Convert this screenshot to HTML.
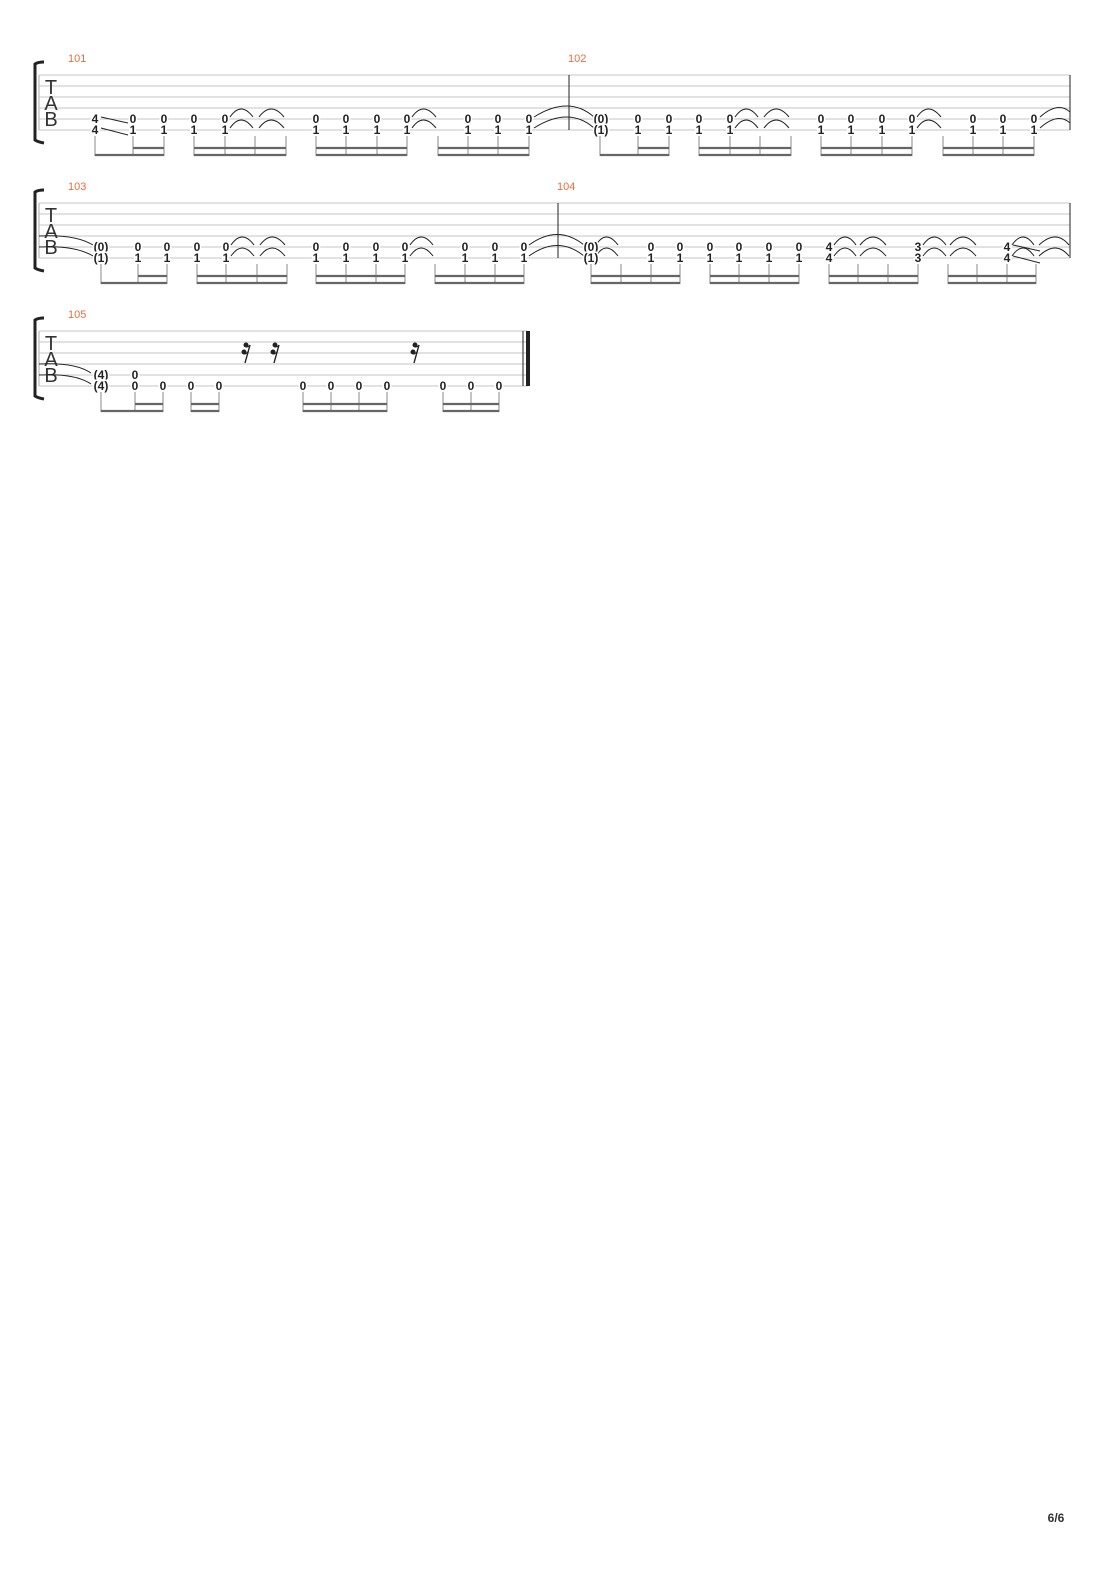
<!DOCTYPE html>
<html><head><meta charset="utf-8"><style>
html,body{margin:0;padding:0;background:#fff;}
svg{display:block}
.st line{stroke:#c4c4c4;stroke-width:1}
.n{font:bold 12px "Liberation Sans",sans-serif;fill:#222;text-anchor:middle;paint-order:stroke;stroke:#fff;stroke-width:3px}
.mn{font:11px "Liberation Sans",sans-serif;fill:#f26a3c}
.tab{font:20px "Liberation Sans",sans-serif;fill:#333;text-anchor:middle}
.tie{fill:none;stroke:#222;stroke-width:1}
.stem{stroke:#888;stroke-width:1}
.bm{stroke:#666;stroke-width:2.2}
</style></head><body>
<svg width="1110" height="1570" viewBox="0 0 1110 1570" xmlns="http://www.w3.org/2000/svg">
<defs>
<g id="staffhead">
<path d="M44 62 Q38 62 35 64 L35 140 Q38 142 44 143" fill="none" stroke="#222" stroke-width="3"/>
<line x1="39" y1="75" x2="39" y2="130" stroke="#aaa" stroke-width="1"/>
</g>
</defs>

<!-- SYSTEM 1 -->
<g>
<use href="#staffhead"/>
<g class="st"><line x1="39" y1="75" x2="1070" y2="75"/><line x1="39" y1="86" x2="1070" y2="86"/><line x1="39" y1="97" x2="1070" y2="97"/><line x1="39" y1="108" x2="1070" y2="108"/><line x1="39" y1="119" x2="1070" y2="119"/><line x1="39" y1="130" x2="1070" y2="130"/></g>
<text class="tab" x="51" y="94">T</text><text class="tab" x="51" y="110">A</text><text class="tab" x="51" y="126">B</text>
<text class="mn" x="68" y="62">101</text><text class="mn" x="568" y="62">102</text>
<line x1="569" y1="75" x2="569" y2="130" stroke="#222"/>
<line x1="1070" y1="75" x2="1070" y2="130" stroke="#222"/>
<!-- slides -->
<line x1="101" y1="117" x2="128" y2="123" stroke="#222"/><line x1="101" y1="128" x2="128" y2="135" stroke="#222"/>
<!-- ties -->
<g class="tie">
<path d="M230 117 Q241 101 253 117"/><path d="M230 128 Q241 112 253 128"/>
<path d="M259 117 Q271 101 284 117"/><path d="M259 128 Q271 112 284 128"/>
<path d="M412 117 Q423 101 436 117"/><path d="M412 128 Q423 112 436 128"/>
<path d="M534 117 Q569 95 594 117"/><path d="M534 128 Q569 106 594 128"/>
<path d="M735 117 Q746 101 758 117"/><path d="M735 128 Q746 112 758 128"/>
<path d="M764 117 Q776 101 789 117"/><path d="M764 128 Q776 112 789 128"/>
<path d="M917 117 Q928 101 941 117"/><path d="M917 128 Q928 112 941 128"/>
<path d="M1040 117 Q1058 101 1070 112"/><path d="M1040 128 Q1058 112 1070 123"/>
</g>
<!-- numbers -->
<g class="n">
<text x="95" y="123">4</text><text x="95" y="134">4</text>
<text x="133" y="123">0</text><text x="133" y="134">1</text>
<text x="164" y="123">0</text><text x="164" y="134">1</text>
<text x="194" y="123">0</text><text x="194" y="134">1</text>
<text x="225" y="123">0</text><text x="225" y="134">1</text>
<text x="316" y="123">0</text><text x="316" y="134">1</text>
<text x="346" y="123">0</text><text x="346" y="134">1</text>
<text x="377" y="123">0</text><text x="377" y="134">1</text>
<text x="407" y="123">0</text><text x="407" y="134">1</text>
<text x="468" y="123">0</text><text x="468" y="134">1</text>
<text x="498" y="123">0</text><text x="498" y="134">1</text>
<text x="529" y="123">0</text><text x="529" y="134">1</text>
<text x="601" y="123">(0)</text><text x="601" y="134">(1)</text>
<text x="638" y="123">0</text><text x="638" y="134">1</text>
<text x="669" y="123">0</text><text x="669" y="134">1</text>
<text x="699" y="123">0</text><text x="699" y="134">1</text>
<text x="730" y="123">0</text><text x="730" y="134">1</text>
<text x="821" y="123">0</text><text x="821" y="134">1</text>
<text x="851" y="123">0</text><text x="851" y="134">1</text>
<text x="882" y="123">0</text><text x="882" y="134">1</text>
<text x="912" y="123">0</text><text x="912" y="134">1</text>
<text x="973" y="123">0</text><text x="973" y="134">1</text>
<text x="1003" y="123">0</text><text x="1003" y="134">1</text>
<text x="1034" y="123">0</text><text x="1034" y="134">1</text>
</g>
<!-- stems -->
<path class="stem" d="M95 136V156M133 136V156M164 136V156M194 136V156M225 136V156M255 136V156M286 136V156M316 136V156M346 136V156M377 136V156M407 136V156M438 136V156M468 136V156M498 136V156M529 136V156
M600 136V156M638 136V156M669 136V156M699 136V156M730 136V156M760 136V156M791 136V156M821 136V156M851 136V156M882 136V156M912 136V156M943 136V156M973 136V156M1003 136V156M1034 136V156"/>
<path class="bm" d="M95 155H164M133 148H164M194 155H286M194 148H286M316 155H407M316 148H407M438 155H529M438 148H529
M600 155H669M638 148H669M699 155H791M699 148H791M821 155H912M821 148H912M943 155H1034M943 148H1034"/>
</g>

<!-- SYSTEM 2 -->
<g transform="translate(0,128)">
<use href="#staffhead"/>
<g class="st"><line x1="39" y1="75" x2="1070" y2="75"/><line x1="39" y1="86" x2="1070" y2="86"/><line x1="39" y1="97" x2="1070" y2="97"/><line x1="39" y1="108" x2="1070" y2="108"/><line x1="39" y1="119" x2="1070" y2="119"/><line x1="39" y1="130" x2="1070" y2="130"/></g>
<text class="tab" x="51" y="94">T</text><text class="tab" x="51" y="110">A</text><text class="tab" x="51" y="126">B</text>
<text class="mn" x="68" y="62">103</text><text class="mn" x="557" y="62">104</text>
<line x1="558" y1="75" x2="558" y2="130" stroke="#222"/>
<line x1="1070" y1="75" x2="1070" y2="130" stroke="#222"/>
<line x1="1013" y1="117" x2="1040" y2="123" stroke="#222"/><line x1="1013" y1="128" x2="1040" y2="135" stroke="#222"/>
<g class="tie">
<path d="M39 108 Q75 106 93 117"/><path d="M39 119 Q75 117 93 128"/>
<path d="M231 117 Q242 101 254 117"/><path d="M231 128 Q242 112 254 128"/>
<path d="M260 117 Q272 101 285 117"/><path d="M260 128 Q272 112 285 128"/>
<path d="M410 117 Q421 101 433 117"/><path d="M410 128 Q421 112 433 128"/>
<path d="M529 117 Q558 96 584 117"/><path d="M529 128 Q558 107 584 128"/>
<path d="M596 117 Q606 101 618 117"/><path d="M596 128 Q606 112 618 128"/>
<path d="M834 117 Q845 101 856 117"/><path d="M834 128 Q845 112 856 128"/>
<path d="M860 117 Q873 101 886 117"/><path d="M860 128 Q873 112 886 128"/>
<path d="M923 117 Q934 101 946 117"/><path d="M923 128 Q934 112 946 128"/>
<path d="M950 117 Q963 101 976 117"/><path d="M950 128 Q963 112 976 128"/>
<path d="M1012 117 Q1023 101 1034 117"/><path d="M1012 128 Q1023 112 1034 128"/>
<path d="M1039 117 Q1056 101 1069 117"/><path d="M1039 128 Q1056 112 1069 128"/>
</g>
<g class="n">
<text x="101" y="123">(0)</text><text x="101" y="134">(1)</text>
<text x="138" y="123">0</text><text x="138" y="134">1</text>
<text x="167" y="123">0</text><text x="167" y="134">1</text>
<text x="197" y="123">0</text><text x="197" y="134">1</text>
<text x="226" y="123">0</text><text x="226" y="134">1</text>
<text x="316" y="123">0</text><text x="316" y="134">1</text>
<text x="346" y="123">0</text><text x="346" y="134">1</text>
<text x="376" y="123">0</text><text x="376" y="134">1</text>
<text x="405" y="123">0</text><text x="405" y="134">1</text>
<text x="465" y="123">0</text><text x="465" y="134">1</text>
<text x="495" y="123">0</text><text x="495" y="134">1</text>
<text x="524" y="123">0</text><text x="524" y="134">1</text>
<text x="591" y="123">(0)</text><text x="591" y="134">(1)</text>
<text x="651" y="123">0</text><text x="651" y="134">1</text>
<text x="680" y="123">0</text><text x="680" y="134">1</text>
<text x="710" y="123">0</text><text x="710" y="134">1</text>
<text x="739" y="123">0</text><text x="739" y="134">1</text>
<text x="769" y="123">0</text><text x="769" y="134">1</text>
<text x="799" y="123">0</text><text x="799" y="134">1</text>
<text x="829" y="123">4</text><text x="829" y="134">4</text>
<text x="918" y="123">3</text><text x="918" y="134">3</text>
<text x="1007" y="123">4</text><text x="1007" y="134">4</text>
</g>
<path class="stem" d="M101 136V156M138 136V156M167 136V156M197 136V156M226 136V156M257 136V156M287 136V156M316 136V156M346 136V156M376 136V156M405 136V156M435 136V156M465 136V156M495 136V156M524 136V156
M591 136V156M621 136V156M651 136V156M680 136V156M710 136V156M739 136V156M769 136V156M799 136V156M829 136V156M858 136V156M888 136V156M918 136V156M948 136V156M977 136V156M1007 136V156M1036 136V156"/>
<path class="bm" d="M101 155H167M138 148H167M197 155H287M197 148H287M316 155H405M316 148H405M435 155H524M435 148H524
M591 155H680M591 148H680M710 155H799M710 148H799M829 155H918M829 148H918M948 155H1036M948 148H1036"/>
</g>

<!-- SYSTEM 3 -->
<g transform="translate(0,256)">
<use href="#staffhead"/>
<g class="st"><line x1="39" y1="75" x2="528" y2="75"/><line x1="39" y1="86" x2="528" y2="86"/><line x1="39" y1="97" x2="528" y2="97"/><line x1="39" y1="108" x2="528" y2="108"/><line x1="39" y1="119" x2="528" y2="119"/><line x1="39" y1="130" x2="528" y2="130"/></g>
<text class="tab" x="51" y="94">T</text><text class="tab" x="51" y="110">A</text><text class="tab" x="51" y="126">B</text>
<text class="mn" x="68" y="62">105</text>
<line x1="523" y1="75" x2="523" y2="130" stroke="#222"/>
<rect x="526" y="75" width="4" height="55" fill="#222"/>
<g class="tie">
<path d="M39 108 Q75 106 91 117"/><path d="M39 119 Q75 117 91 128"/>
</g>
<g fill="#222" stroke="#222">
<g transform="translate(247,0)"><line x1="3" y1="89" x2="-2" y2="107" stroke-width="1.4"/><circle cx="-1" cy="89" r="2"/><circle cx="-3" cy="96" r="2"/><path d="M-1 91 Q2 91 3 89 M-3 98 Q0 98 1.5 95" fill="none" stroke-width="1"/></g>
<g transform="translate(276,0)"><line x1="3" y1="89" x2="-2" y2="107" stroke-width="1.4"/><circle cx="-1" cy="89" r="2"/><circle cx="-3" cy="96" r="2"/><path d="M-1 91 Q2 91 3 89 M-3 98 Q0 98 1.5 95" fill="none" stroke-width="1"/></g>
<g transform="translate(416,0)"><line x1="3" y1="89" x2="-2" y2="107" stroke-width="1.4"/><circle cx="-1" cy="89" r="2"/><circle cx="-3" cy="96" r="2"/><path d="M-1 91 Q2 91 3 89 M-3 98 Q0 98 1.5 95" fill="none" stroke-width="1"/></g>
</g>
<g class="n">
<text x="101" y="123">(4)</text><text x="101" y="134">(4)</text>
<text x="135" y="123">0</text><text x="135" y="134">0</text>
<text x="163" y="134">0</text><text x="191" y="134">0</text><text x="219" y="134">0</text>
<text x="303" y="134">0</text><text x="331" y="134">0</text><text x="359" y="134">0</text><text x="387" y="134">0</text>
<text x="443" y="134">0</text><text x="471" y="134">0</text><text x="499" y="134">0</text>
</g>
<path class="stem" d="M101 136V156M135 136V156M163 136V156M191 136V156M219 136V156M303 136V156M331 136V156M359 136V156M387 136V156M443 136V156M471 136V156M499 136V156"/>
<path class="bm" d="M101 155H163M135 148H163M191 155H219M191 148H219M303 155H387M303 148H387M443 155H499M443 148H499"/>
</g>

<text x="1056" y="1522" text-anchor="middle" style="font:bold 12px 'Liberation Sans',sans-serif;fill:#333">6/6</text>
</svg>
</body></html>
